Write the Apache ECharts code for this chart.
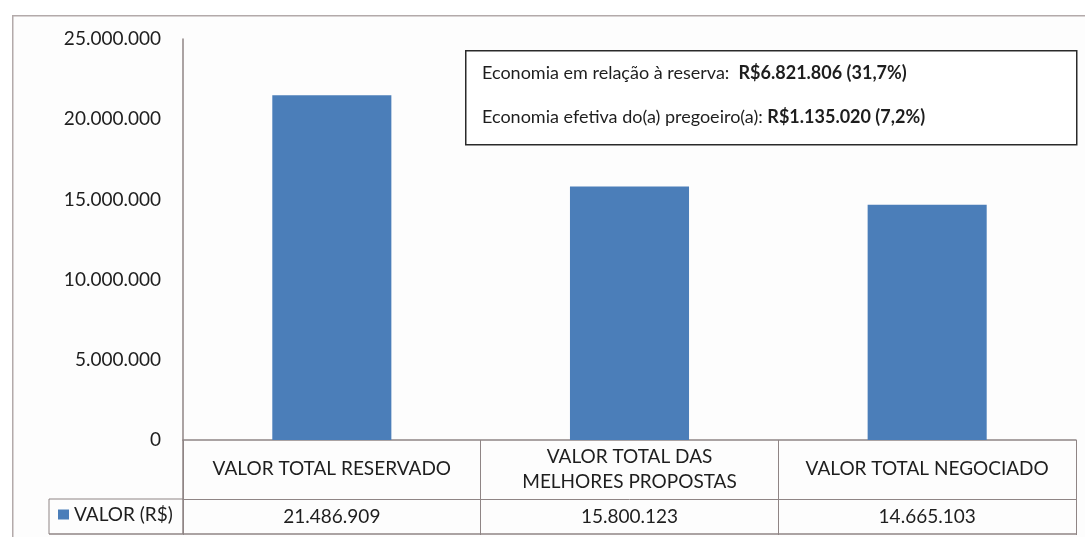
<!DOCTYPE html>
<html>
<head>
<meta charset="utf-8">
<script src="https://cdn.jsdelivr.net/npm/echarts@6/dist/echarts.min.js"></script>
<style>
  html, body { margin: 0; padding: 0; background: #fff; }
  #main { width: 1085px; height: 537px; }
</style>
</head>
<body>
<div id="main"></div>
<script>
// dados do gráfico
const categories = ['VALOR TOTAL RESERVADO', 'VALOR TOTAL DAS\nMELHORES PROPOSTAS', 'VALOR TOTAL NEGOCIADO']
const values = [21486909, 15800123, 14665103]
const seriesName = 'VALOR (R$)'
const noteLabels = ['Economia em relação à reserva:  ', 'Economia efetiva do(a) pregoeiro(a): ']
const noteValues = ['R$6.821.806 (31,7%)', 'R$1.135.020 (7,2%)']

const fmt = n => String(n).replace(/\B(?=(\d{3})+(?!\d))/g, '.')

const font = 'Lato, "Open Sans", sans-serif'
const textColor = '#1e1e1e'
const lineColor = '#8f8585'
const barColor = '#4b7eb9'

const chartDom = document.getElementById('main')
const myChart = echarts.init(chartDom)
const option = {
  animation: false,
  backgroundColor: '#fff',
  textStyle: { fontFamily: font },
  grid: { left: 183, right: 9, top: 39, bottom: 97, containLabel: false },
  legend: {
    data: [seriesName],
    left: 58,
    top: 505,
    padding: 0,
    icon: 'rect',
    itemWidth: 11,
    itemHeight: 10,
    textStyle: { fontSize: 19, color: textColor, fontFamily: font }
  },
  xAxis: [
    {
      type: 'category',
      data: categories,
      position: 'bottom',
      axisLine: { lineStyle: { color: lineColor, width: 1.5 } },
      axisTick: { show: true, length: 95, lineStyle: { color: lineColor } },
      axisLabel: {
        interval: 0,
        fontSize: 19,
        color: textColor,
        fontFamily: font,
        lineHeight: 25,
        verticalAlign: 'middle',
        margin: 29
      }
    },
    {
      type: 'category',
      data: values.map(fmt),
      position: 'bottom',
      offset: 59,
      axisLine: { lineStyle: { color: lineColor } },
      axisTick: { show: true, length: 36, lineStyle: { color: lineColor } },
      axisLabel: {
        interval: 0,
        fontSize: 19,
        color: textColor,
        fontFamily: font,
        verticalAlign: 'middle',
        margin: 18
      }
    }
  ],
  yAxis: {
    type: 'value',
    min: 0,
    max: 25000000,
    interval: 5000000,
    axisLine: { show: true, lineStyle: { color: lineColor, width: 1.5 } },
    axisTick: { show: false },
    splitLine: { show: false },
    axisLabel: { fontSize: 19, color: textColor, fontFamily: font, margin: 22, formatter: v => fmt(v) }
  },
  series: [
    {
      name: seriesName,
      type: 'bar',
      data: values,
      barWidth: '40%',
      itemStyle: { color: barColor }
    }
  ],
  graphic: [
    // moldura externa
    { type: 'rect', left: 12, top: 15, silent: true, z: -10,
      shape: { width: 1100, height: 600 },
      style: { fill: '#fdfdfd', stroke: '#b3aaaa', lineWidth: 1.5 } },
    // linhas da tabela
    { type: 'line', silent: true, shape: { x1: 49, y1: 499, x2: 183, y2: 499 }, style: { stroke: lineColor, lineWidth: 1 } },
    { type: 'line', silent: true, shape: { x1: 49, y1: 534, x2: 1076, y2: 534 }, style: { stroke: lineColor, lineWidth: 1.5 } },
    { type: 'line', silent: true, shape: { x1: 49, y1: 499, x2: 49, y2: 534 }, style: { stroke: lineColor, lineWidth: 1 } },
    { type: 'line', silent: true, shape: { x1: 183, y1: 440, x2: 183, y2: 534 }, style: { stroke: lineColor, lineWidth: 1.5 } },
    // caixa de texto
    { type: 'rect', left: 465, top: 50, silent: true,
      shape: { width: 611, height: 94 },
      style: { fill: '#fff', stroke: '#2a2a2a', lineWidth: 1.5 } },
    ...noteLabels.map((t, i) => ({
      type: 'text', x: 482, y: 73 + i * 44, silent: true,
      style: {
        text: '{a|' + t + '}{b|' + noteValues[i] + '}',
        verticalAlign: 'middle',
        rich: {
          a: { fontSize: 18, fontFamily: font, fill: textColor },
          b: { fontSize: 18, fontFamily: font, fill: textColor, fontWeight: 'bold' }
        }
      }
    }))
  ]
}
option && myChart.setOption(option)
</script>
</body>
</html>
